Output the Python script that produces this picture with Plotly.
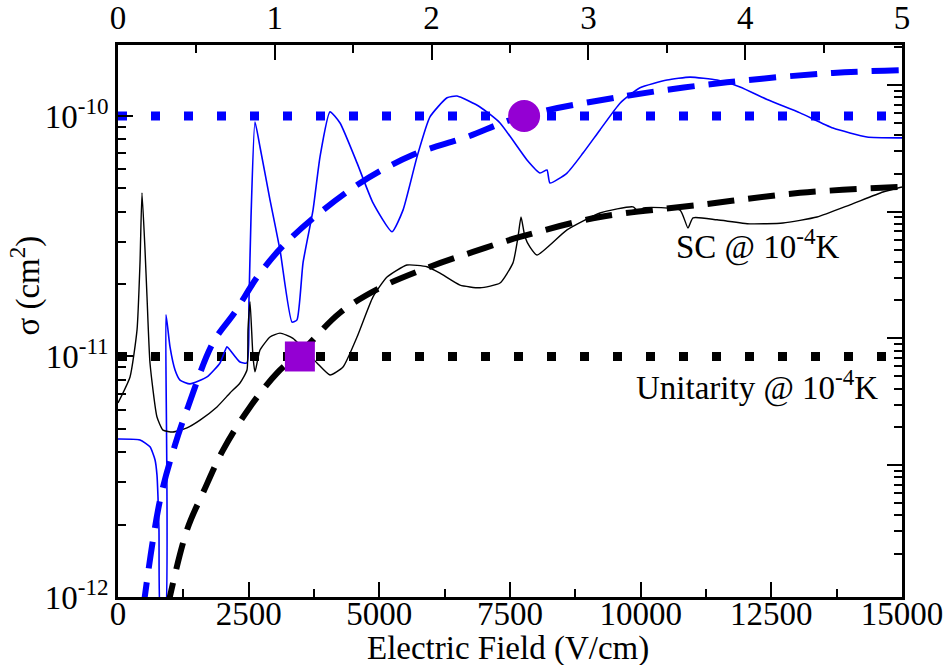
import plotly.graph_objects as go

# ---------------- data ----------------
# thin blue curve
blue_x = [0, 421, 612, 708, 746, 765, 784, 823, 899, 918, 995, 1091, 1186, 1378, 1703, 1952,
          2085, 2143, 2334, 2468, 2506, 2545, 2621, 2717, 2908, 3100, 3329, 3425, 3540, 3731,
          3865, 4056, 4248, 4573, 4879, 5242, 5453, 5721, 5969, 6295, 6486, 6926, 7309, 7825,
          8074, 8208, 8265, 8591, 8897, 9222, 9605, 9987, 10504, 10944, 11461, 11901, 12418,
          13049, 13680, 14330, 14962, 15000]
blue_y = [4.54e-12, 4.50e-12, 4.21e-12, 3.72e-12, 3.21e-12, 2.61e-12, 1.90e-12, 7.9e-13, 7.9e-13,
          1.49e-11, 1.096e-11, 8.79e-12, 7.98e-12, 7.69e-12, 8.22e-12, 9.40e-12, 1.096e-11,
          1.064e-11, 9.48e-12, 9.40e-12, 1.718e-11, 3.80e-11, 9.44e-11, 7.43e-11, 4.48e-11,
          2.77e-11, 1.39e-11, 1.42e-11, 2.45e-11, 4.06e-11, 6.76e-11, 1.04e-10, 9.35e-11,
          6.38e-11, 4.35e-11, 3.30e-11, 4.06e-11, 6.76e-11, 9.91e-11, 1.19e-10, 1.21e-10,
          1.09e-10, 9.35e-11, 6.56e-11, 5.79e-11, 5.96e-11, 5.26e-11, 5.79e-11, 7.01e-11,
          8.75e-11, 1.13e-10, 1.31e-10, 1.41e-10, 1.45e-10, 1.41e-10, 1.32e-10, 1.17e-10,
          1.03e-10, 8.91e-11, 8.18e-11, 8.11e-11, 8.11e-11]

# thin black curve
black_x = [0, 230, 364, 421, 459, 517, 555, 612, 746, 861, 1052, 1320, 1569, 1894, 2143, 2334,
           2468, 2487, 2526, 2583, 2621, 2717, 2908, 3100, 3348, 3807, 4056, 4305, 4573, 4879,
           5147, 5529, 5912, 6161, 6544, 6926, 7309, 7557, 7653, 7711, 7787, 7883, 8017, 8591,
           9222, 9853, 9987, 10045, 10753, 10906, 11001, 11461, 12092, 12723, 13374, 14005,
           14636, 15000]
black_y = [6.41e-12, 8.22e-12, 1.29e-11, 2.45e-11, 4.79e-11, 2.77e-11, 1.77e-11, 9.40e-12,
           5.60e-12, 4.94e-12, 4.85e-12, 5.05e-12, 5.44e-12, 6.17e-12, 7.05e-12, 7.76e-12,
           8.79e-12, 1.29e-11, 1.69e-11, 9.95e-12, 8.63e-12, 1.064e-11, 1.205e-11, 1.25e-11,
           1.19e-11, 9.40e-12, 8.38e-12, 9.04e-12, 1.205e-11, 1.77e-11, 2.14e-11, 2.40e-11,
           2.36e-11, 2.22e-11, 1.98e-11, 1.93e-11, 2.02e-11, 2.45e-11, 3.14e-11, 3.80e-11,
           3.14e-11, 2.85e-11, 2.64e-11, 3.36e-11, 3.95e-11, 4.19e-11, 3.95e-11, 4.14e-11,
           4.06e-11, 3.42e-11, 3.77e-11, 3.70e-11, 3.56e-11, 3.59e-11, 3.80e-11, 4.27e-11,
           4.83e-11, 5.07e-11]

# thick blue dashed curve
bdash_x = [480, 804, 1091, 1339, 1818, 2238, 2717, 3329, 4573, 5644, 6677, 7691, 9605, 11652,
           13680, 15000]
bdash_y = [8.9e-13, 2.53e-12, 4.29e-12, 6.17e-12, 1.14e-11, 1.53e-11, 2.22e-11, 3.14e-11,
           5.16e-11, 6.89e-11, 8.18e-11, 9.91e-11, 1.20e-10, 1.38e-10, 1.51e-10, 1.55e-10]

# thick black dashed curve
kdash_x = [940, 1320, 1626, 2009, 2526, 3042, 3540, 4248, 5013, 5970, 6792, 7691, 9222, 11135,
           13049, 15000]
kdash_y = [8.9e-13, 1.90e-12, 2.71e-12, 4.08e-12, 6.17e-12, 8.53e-12, 1.064e-11, 1.52e-11,
           1.93e-11, 2.36e-11, 2.72e-11, 3.14e-11, 3.80e-11, 4.27e-11, 4.79e-11, 5.07e-11]

# horizontal reference levels
level_x = [0, 15000]
sc_level = 1e-10
unit_level = 1e-11

# highlighted crossing points
circle_x, circle_y = [7770], [1e-10]
square_x, square_y = [3480], [1e-11]

# ticks
x_ticks = [0, 2500, 5000, 7500, 10000, 12500, 15000]
x_ticktext = ["0", "2500", "5000", "7500", "10000", "12500", "15000"]
x_top_ticks = [0, 1, 2, 3, 4, 5]
y_ticks = [1e-12, 1e-11, 1e-10]
y_ticktext = ["10<sup>-12</sup>", "10<sup>-11</sup>", "10<sup>-10</sup>"]
y_minor = [m * 10.0 ** e for e in (-12, -11, -10) for m in range(2, 10)]
y2_ticks = [1, 10, 100, 1000]
y2_minor = [m * 10.0 ** e for e in (-2, -1, 0, 1, 2, 3) for m in range(2, 10)]

FONT = "Liberation Serif"
FS = 33
BLUE = "#0000ff"
PURPLE = "#9400d3"

fig = go.Figure()

fig.add_trace(go.Scatter(x=level_x, y=[sc_level, sc_level], mode="lines",
                         line=dict(color=BLUE, width=9, dash="9px,24px"), showlegend=False))
fig.add_trace(go.Scatter(x=level_x, y=[unit_level, unit_level], mode="lines",
                         line=dict(color="black", width=9, dash="9px,24px"), showlegend=False))
fig.add_trace(go.Scatter(x=blue_x, y=blue_y, mode="lines",
                         line=dict(color=BLUE, width=1.6, shape="spline", smoothing=0.5),
                         showlegend=False))
fig.add_trace(go.Scatter(x=black_x, y=black_y, mode="lines",
                         line=dict(color="black", width=1.4, shape="spline", smoothing=0.5),
                         showlegend=False))
fig.add_trace(go.Scatter(x=bdash_x, y=bdash_y, mode="lines",
                         line=dict(color=BLUE, width=6, dash="27px,14px", shape="spline"),
                         showlegend=False))
fig.add_trace(go.Scatter(x=kdash_x, y=kdash_y, mode="lines",
                         line=dict(color="black", width=6, dash="27px,14px", shape="spline"),
                         showlegend=False))
fig.add_trace(go.Scatter(x=circle_x, y=circle_y, mode="markers",
                         marker=dict(symbol="circle", size=32, color=PURPLE), showlegend=False))
fig.add_trace(go.Scatter(x=square_x, y=square_y, mode="markers",
                         marker=dict(symbol="square", size=30, color=PURPLE), showlegend=False))
# dummy trace to activate the top / right axes
fig.add_trace(go.Scatter(x=[0, 5], y=[1, 10], xaxis="x2", yaxis="y2", mode="lines",
                         line=dict(width=0), opacity=0, hoverinfo="skip", showlegend=False))

axis_common = dict(showline=True, linecolor="black", linewidth=2.5, showgrid=False,
                   zeroline=False, ticks="inside", tickcolor="black", tickwidth=2,
                   tickfont=dict(family=FONT, size=FS, color="black"))

fig.update_layout(
    width=947, height=665,
    margin=dict(l=118, r=45, t=45, b=68, autoexpand=False),
    paper_bgcolor="white", plot_bgcolor="white",
    font=dict(family=FONT, size=FS, color="black"),
    xaxis=dict(range=[0, 15000], tickvals=x_ticks, ticktext=x_ticktext, ticklen=15,
               ticklabelstandoff=-14,
               minor=dict(dtick=1250, tick0=0, ticks="inside", ticklen=8, tickwidth=2,
                          tickcolor="black"),
               **axis_common),
    xaxis2=dict(range=[0, 5], overlaying="x", side="top", anchor="y2", tickvals=x_top_ticks,
                ticklen=15,
                minor=dict(dtick=0.5, tick0=0, ticks="inside", ticklen=8, tickwidth=2,
                           tickcolor="black"),
                **axis_common),
    yaxis=dict(type="log", range=[-12, -9.705], tickvals=y_ticks, ticktext=y_ticktext,
               ticklen=15,
               minor=dict(tickvals=y_minor, ticks="inside", ticklen=8, tickwidth=2,
                          tickcolor="black"),
               **axis_common),
    yaxis2=dict(type="log", range=[-1.042, 3.316], overlaying="y", side="right", anchor="x2",
                tickvals=y2_ticks, showticklabels=False, ticklen=15,
                minor=dict(tickvals=y2_minor, ticks="inside", ticklen=8, tickwidth=2,
                           tickcolor="black"),
                **axis_common),
    annotations=[
        dict(text="Electric Field (V/cm)", xref="paper", yref="paper", x=0.497, y=-0.093,
             xanchor="center", yanchor="middle", showarrow=False,
             font=dict(family=FONT, size=FS)),
        dict(text="σ (cm<sup>2</sup>)", xref="paper", yref="paper", x=-0.118, y=0.565,
             xanchor="center", yanchor="middle", textangle=-90, showarrow=False,
             font=dict(family=FONT, size=FS)),
        dict(text="SC @ 10<sup>-4</sup>K", xref="paper", yref="paper", x=0.816, y=0.638,
             xanchor="center", yanchor="middle", showarrow=False,
             font=dict(family=FONT, size=FS)),
        dict(text="Unitarity @ 10<sup>-4</sup>K", xref="paper", yref="paper", x=0.815, y=0.384,
             xanchor="center", yanchor="middle", showarrow=False,
             font=dict(family=FONT, size=FS)),
    ],
)

fig.write_html("out.html", config={"displayModeBar": False},
               post_script="document.body.style.margin='0';")
